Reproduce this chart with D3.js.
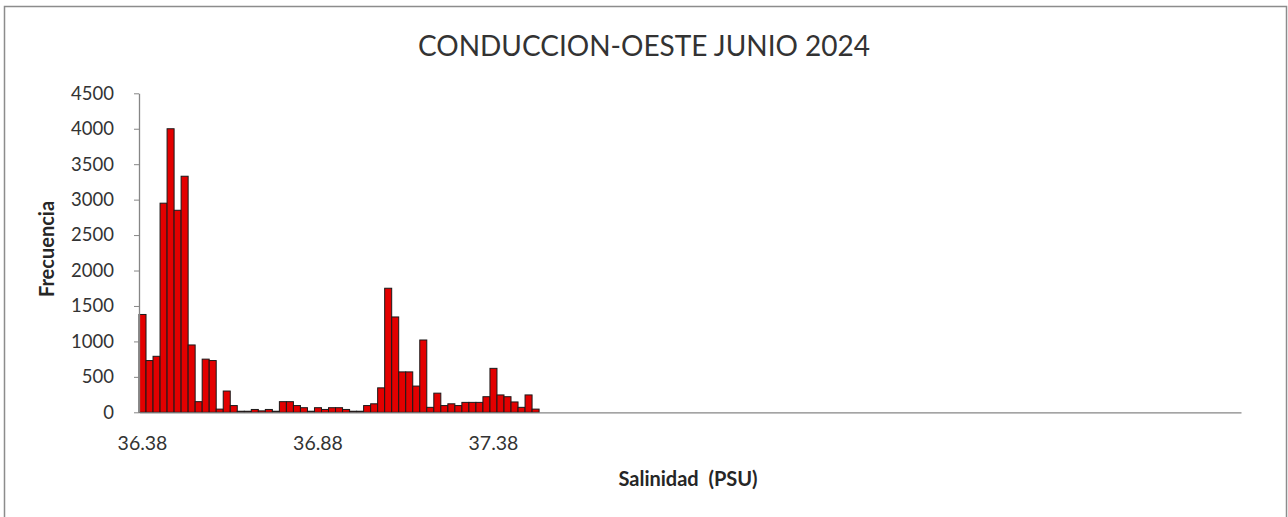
<!DOCTYPE html>
<html>
<head>
<meta charset="utf-8">
<script src="https://cdn.jsdelivr.net/npm/d3@7"></script>
<style>
	html, body { margin: 0; padding: 0; background: #fff; }
	svg { display: block; }
</style>
</head>
<body>
<div id="chart"></div>
<script>

// bins of 0.02 PSU, from 36.38 up to 39.50
var binStart = 36.38;
var binStep = 0.02;
var binCount = 157;

var categories = d3.range(binCount).map(function (i) {
	return (binStart + binStep * i).toFixed(2);
});

// frecuencia per bin (only the first 57 bins hold data)
var frecuencia = [
	1380, 730, 790, 2950, 4000, 2850, 3330, 950, 150, 750,
	730, 45, 300, 95, 15, 15, 40, 20, 40, 15,
	150, 150, 95, 65, 15, 65, 40, 65, 65, 40,
	15, 15, 95, 120, 345, 1750, 1345, 570, 570, 370,
	1020, 70, 270, 95, 120, 95, 140, 140, 140, 220,
	620, 245, 220, 146, 70, 245, 45
];

var xTickLabels = ['36.38', '36.88', '37.38'];
var yTicks = [0, 500, 1000, 1500, 2000, 2500, 3000, 3500, 4000, 4500];

var title = 'CONDUCCION-OESTE JUNIO 2024';
var xTitle = 'Salinidad  (PSU)';
var yTitle = 'Frecuencia';


var width = 1288;
var height = 517;

var plot = { left: 139, right: 1241, top: 93.3, bottom: 412.3 };

var font = 'Lato, "Open Sans", sans-serif';
var barColor = '#e30000';

var svg = d3.select('#chart')
		.append('svg')
		.attr('width', width)
		.attr('height', height);

// outer frame
svg.append('rect')
		.attr('x', 4.5)
		.attr('y', 6.5)
		.attr('width', 1282)
		.attr('height', 530)
		.attr('fill', '#fff')
		.attr('stroke', '#8c8c8c')
		.attr('stroke-width', 1.5);

var x = d3.scaleBand()
		.domain(categories)
		.range([plot.left, plot.right])
		.paddingInner(0)
		.paddingOuter(0);

var y = d3.scaleLinear()
		.domain([0, 4500])
		.range([plot.bottom, plot.top]);

// bars
svg.append('g')
		.selectAll('rect')
		.data(frecuencia)
		.enter()
		.append('rect')
		.attr('x', function (d, i) { return x(categories[i]); })
		.attr('y', function (d) { return y(d); })
		.attr('width', x.bandwidth())
		.attr('height', function (d) { return y(0) - y(d); })
		.attr('fill', barColor)
		.attr('stroke', '#1a1a1a')
		.attr('stroke-width', 1);

// y axis
var yAxis = svg.append('g')
		.attr('transform', 'translate(' + plot.left + ',0)')
		.call(d3.axisLeft(y)
			.tickValues(yTicks)
			.tickFormat(d3.format('d'))
			.tickSize(5)
			.tickSizeOuter(0)
			.tickPadding(20));

yAxis.select('.domain')
		.attr('stroke', '#868686')
		.attr('stroke-width', 1.3);

yAxis.selectAll('.tick line')
		.attr('stroke', '#868686');

yAxis.selectAll('.tick text')
		.attr('font-family', font)
		.attr('font-size', '18.5px')
		.attr('fill', '#333');

// x axis
var xAxis = svg.append('g')
		.attr('transform', 'translate(0,' + plot.bottom + ')')
		.call(d3.axisBottom(x).tickValues(xTickLabels).tickSize(0).tickSizeOuter(0));

xAxis.select('.domain')
		.attr('stroke', '#868686')
		.attr('stroke-width', 1.3);

xAxis.selectAll('.tick text')
		.attr('y', 38)
		.attr('dy', 0)
		.attr('font-family', font)
		.attr('font-size', '19.5px')
		.attr('fill', '#333');

// title
svg.append('text')
		.attr('x', 644)
		.attr('y', 56)
		.attr('text-anchor', 'middle')
		.attr('font-family', font)
		.attr('font-size', '28px')
		.attr('fill', '#333')
		.text(title);

// x axis title
svg.append('text')
		.attr('x', 688)
		.attr('y', 486)
		.attr('text-anchor', 'middle')
		.attr('font-family', font)
		.attr('font-size', '20px')
		.attr('font-weight', 'bold')
		.attr('fill', '#262626')
		.attr('xml:space', 'preserve')
		.style('white-space', 'pre')
		.text(xTitle);

// y axis title
svg.append('text')
		.attr('transform', 'translate(54,249) rotate(-90)')
		.attr('text-anchor', 'middle')
		.attr('font-family', font)
		.attr('font-size', '20px')
		.attr('font-weight', 'bold')
		.attr('fill', '#262626')
		.text(yTitle);

</script>
</body>
</html>
